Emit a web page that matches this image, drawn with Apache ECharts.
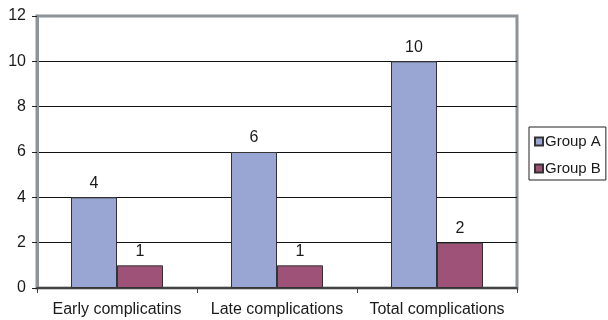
<!DOCTYPE html>
<html>
<head>
<meta charset="utf-8">
<script src="https://cdn.jsdelivr.net/npm/echarts@6/dist/echarts.min.js"></script>
<style>
  html, body { margin: 0; padding: 0; background: #fff; }
  #chart { width: 608px; height: 320px; }
</style>
</head>
<body>
<div id="chart"></div>
<script>
// Complication counts per group
const categories = ['Early complicatins', 'Late complications', 'Total complications'];
const groupA = [4, 6, 10];
const groupB = [1, 1, 2];
const seriesNames = ['Group A', 'Group B'];

const chart = echarts.init(document.getElementById('chart'));
const font = 'Arial, "Liberation Sans", sans-serif';
const textColor = '#1a1a1a';

const labelStyle = {
  show: true,
  position: 'top',
  distance: 6,
  color: textColor,
  fontSize: 16,
  fontFamily: font
};

chart.setOption({
  animation: false,
  grid: {
    left: 37, right: 91, top: 16, bottom: 32,
    show: true,
    borderColor: '#8c9399',
    borderWidth: 3
  },
  legend: {
    left: 529, top: 127,
    orient: 'vertical',
    padding: [6, 5, 3, 5],
    itemGap: 10,
    itemWidth: 8, itemHeight: 8,
    icon: 'rect',
    borderColor: '#222',
    borderWidth: 1,
    textStyle: { color: textColor, fontSize: 15, lineHeight: 17, fontFamily: font, padding: [0, 0, 0, -3] },
    data: seriesNames
  },
  xAxis: {
    type: 'category',
    data: categories,
    axisLine: { lineStyle: { color: '#444', width: 2 } },
    axisTick: { show: true, length: 5, lineStyle: { color: '#444' } },
    axisLabel: { interval: 0, color: textColor, fontSize: 16, fontFamily: font, margin: 14 }
  },
  yAxis: {
    type: 'value',
    min: 0, max: 12, interval: 2,
    axisLine: { show: true, lineStyle: { color: '#8c9399', width: 3 } },
    axisTick: { show: true, length: 5, lineStyle: { color: '#222' } },
    axisLabel: { color: textColor, fontSize: 16, fontFamily: font, margin: 11 },
    splitLine: { show: true, showMaxLine: false, lineStyle: { color: '#111', width: 1 } }
  },
  series: [
    {
      name: seriesNames[0],
      type: 'bar',
      data: groupA,
      barWidth: 46,
      barGap: '0%',
      itemStyle: { color: '#99a6d4', borderColor: '#333', borderWidth: 1 },
      label: labelStyle
    },
    {
      name: seriesNames[1],
      type: 'bar',
      data: groupB,
      barWidth: 46,
      barGap: '0%',
      itemStyle: { color: '#9e5277', borderColor: '#333', borderWidth: 1 },
      label: labelStyle
    }
  ]
});
</script>
</body>
</html>
